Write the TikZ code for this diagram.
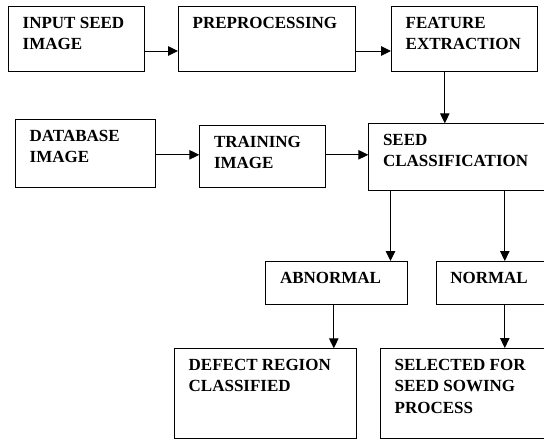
\documentclass[tikz,border=0pt]{standalone}
\usepackage{fontspec}
\setmainfont{Liberation Serif}
\usetikzlibrary{arrows.meta}

\begin{document}
\begin{tikzpicture}[x=1pt, y=-1pt,
    blk/.style={draw, line width=1pt, anchor=north west, inner sep=0pt},
    blktext/.style={anchor=north west, align=left, inner xsep=14.5pt, inner ysep=10.6pt,
        font=\fontsize{17}{21.5}\selectfont\bfseries},
    arr/.style={-{Triangle[length=10pt,width=9.5pt]}, line width=1pt}]

    \useasboundingbox (0,0) rectangle (544,439);

    % first row
    \node[blk, minimum width=136pt, minimum height=65.3pt, label={[blktext]north west:{INPUT SEED\\IMAGE}}] (inp) at (8,6) {};
    \node[blk, minimum width=177.3pt, minimum height=65.3pt, label={[blktext]north west:{PREPROCESSING}}] (pre) at (178,6) {};
    \node[blk, minimum width=146pt, minimum height=65.3pt, label={[blktext]north west:{FEATURE\\EXTRACTION}}] (feat) at (391,6) {};

    % second row
    \node[blk, minimum width=140pt, minimum height=68pt, label={[blktext]north west:{DATABASE\\IMAGE}}] (db) at (15,119.3) {};
    \node[blk, minimum width=126pt, minimum height=62.3pt, label={[blktext]north west:{TRAINING\\IMAGE}}] (train) at (199.3,125) {};
    \node[blk, minimum width=180pt, minimum height=66.7pt, label={[blktext]north west:{SEED\\CLASSIFICATION}}] (seed) at (368.3,123.3) {};

    % results
    \node[blk, minimum width=141.7pt, minimum height=43.3pt, label={[blktext]north west:{ABNORMAL}}] (abn) at (265.3,261) {};
    \node[blk, minimum width=115pt, minimum height=43.3pt, label={[blktext]north west:{NORMAL}}] (norm) at (435.7,261) {};
    \node[blk, minimum width=181.7pt, minimum height=89.4pt, label={[blktext]north west:{DEFECT REGION\\CLASSIFIED}}] (def) at (174,348.3) {};
    \node[blk, minimum width=170pt, minimum height=89.7pt, label={[blktext]north west:{SELECTED FOR\\SEED SOWING\\PROCESS}}] (sel) at (380,348) {};

    \draw[arr] ([yshift=-11.85pt]inp.east) -- ([yshift=-11.85pt]pre.west);
    \draw[arr] ([yshift=-11.85pt]pre.east) -- ([yshift=-11.85pt]feat.west);
    \draw[arr] ([xshift=-19.7pt]feat.south) -- ([xshift=-19.7pt]feat.south |- seed.north);
    \draw[arr] ([yshift=-1pt]db.east) -- ([yshift=-1pt]db.east -| train.west);
    \draw[arr] ([yshift=1.85pt]train.east) -- ([yshift=1.85pt]train.east -| seed.west);
    \draw[arr] ([xshift=-68.3pt]seed.south) -- ([xshift=-68.3pt]seed.south |- abn.north);
    \draw[arr] ([xshift=46pt]seed.south) -- ([xshift=46pt]seed.south |- norm.north);
    \draw[arr] ([xshift=-2.85pt]abn.south) -- ([xshift=-2.85pt]abn.south |- def.north);
    \draw[arr] ([xshift=11.1pt]norm.south) -- ([xshift=11.1pt]norm.south |- sel.north);

\end{tikzpicture}
\end{document}
